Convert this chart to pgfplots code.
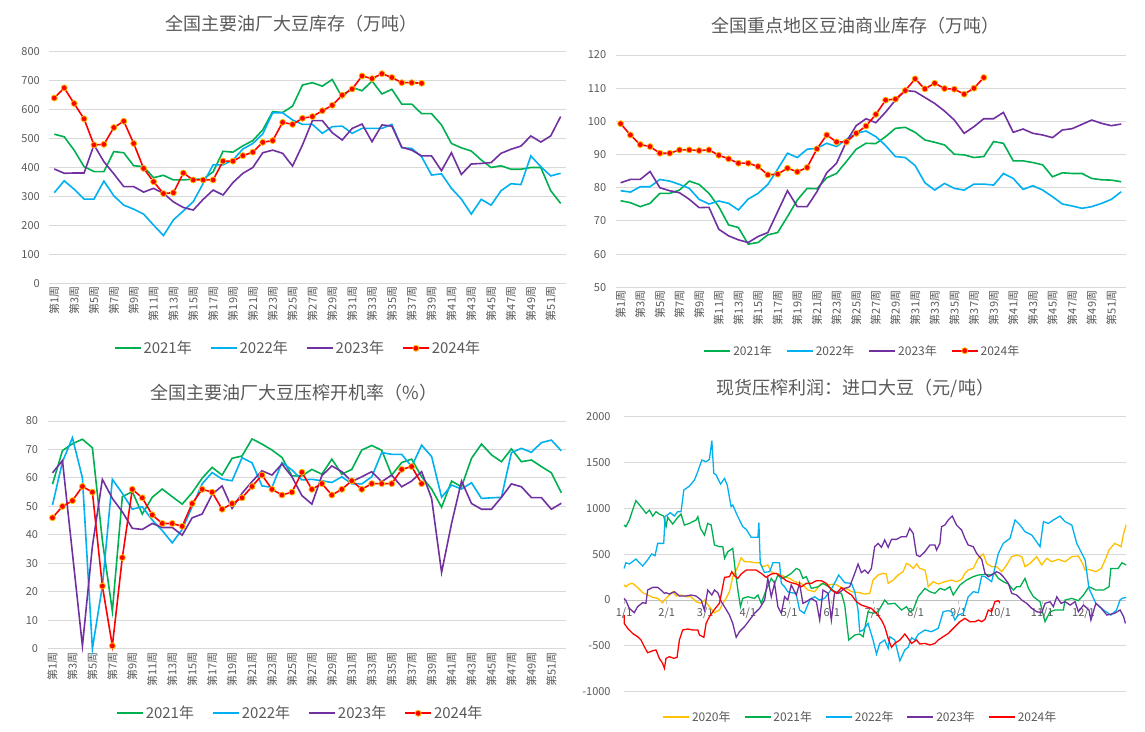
\documentclass[border=0pt]{standalone}
\usepackage{fontspec}
\setmainfont{Noto Sans CJK SC}
\usepackage{pgfplots}
\usepackage{pgfplotstable}
\pgfplotsset{compat=1.18}
\definecolor{cA}{HTML}{00B050}
\definecolor{cB}{HTML}{00B0F0}
\definecolor{cC}{HTML}{7030A0}
\definecolor{cD}{HTML}{FF0000}
\definecolor{cE}{HTML}{FFC000}
\definecolor{txt}{HTML}{595959}
\definecolor{gridc}{HTML}{D9D9D9}
\definecolor{axc}{HTML}{BFBFBF}

% week a21 a22 a23 a24
\pgfplotstableread{
w a21 a22 a23 a24
1 515 313 395 640
2 506 354 380 675
3 460 325 381 621
4 403 291 381 568
5 386 291 478 478
6 386 353 420 480
7 455 302 378 538
8 451 270 334 560
9 406 256 334 483
10 403 239 315 397
11 365 201 328 351
12 373 165 311 310
13 357 219 281 313
14 357 250 262 381
15 360 282 253 357
16 360 345 290 357
17 385 409 322 357
18 456 409 305 422
19 453 426 348 422
20 475 464 380 441
21 493 483 400 453
22 530 516 451 487
23 593 589 460 493
24 590 589 449 556
25 612 564 405 549
26 685 549 478 570
27 693 549 562 576
28 681 518 562 596
29 704 541 520 615
30 642 543 495 650
31 677 518 535 671
32 665 535 550 716
33 699 535 489 707
34 654 535 547 724
35 670 549 543 711
36 619 468 470 693
37 619 466 460 693
38 586 437 440 691
39 586 374 440 nan
40 547 378 389 nan
41 483 328 451 nan
42 468 291 376 nan
43 457 239 412 nan
44 426 290 414 nan
45 400 270 417 nan
46 406 320 449 nan
47 394 344 463 nan
48 394 341 474 nan
49 400 440 509 nan
50 400 403 488 nan
51 320 371 509 nan
52 276 380 576 nan
}\tA

\pgfplotstableread{
w a21 a22 a23 a24
1 76.1 79.1 81.5 99.3
2 75.5 78.7 82.5 95.9
3 74.3 80.3 82.5 93.0
4 75.3 80.3 84.9 92.4
5 78.3 82.5 80.0 90.4
6 78.3 82.0 79.1 90.4
7 79.3 81.0 78.5 91.4
8 82.0 79.8 76.5 91.4
9 81.0 76.5 74.0 91.2
10 78.3 75.1 74.1 91.4
11 74.3 76.0 67.5 89.8
12 68.8 75.3 65.5 88.7
13 68.0 73.3 64.3 87.4
14 63.0 76.6 63.5 87.4
15 63.5 78.3 65.3 86.4
16 65.8 81.0 66.5 83.9
17 66.5 85.6 72.8 84.1
18 71.3 90.4 79.1 85.9
19 76.3 89.1 74.3 84.8
20 79.8 91.6 74.3 86.1
21 79.7 91.9 78.8 91.7
22 83.0 93.4 84.5 95.9
23 84.3 92.4 87.4 93.8
24 87.9 94.6 93.9 93.8
25 91.6 96.4 98.7 96.4
26 93.4 97.1 100.8 98.6
27 93.3 95.4 99.6 102.1
28 95.4 92.7 102.8 106.4
29 97.9 89.4 106.4 106.7
30 98.2 89.1 109.3 109.3
31 96.7 86.7 109.0 112.8
32 94.4 81.5 107.2 109.8
33 93.7 79.3 105.4 111.5
34 92.9 81.3 103.1 109.9
35 90.1 79.8 100.4 109.7
36 89.9 79.3 96.4 108.2
37 89.1 81.1 98.4 110.0
38 89.4 81.1 100.8 113.2
39 93.9 80.8 100.8 nan
40 93.4 84.3 102.7 nan
41 88.1 82.8 96.7 nan
42 88.1 79.5 97.7 nan
43 87.6 80.6 96.4 nan
44 86.9 79.3 95.9 nan
45 83.3 77.3 95.1 nan
46 84.5 75.1 97.4 nan
47 84.3 74.5 97.8 nan
48 84.3 73.8 99.1 nan
49 82.8 74.3 100.4 nan
50 82.4 75.3 99.4 nan
51 82.3 76.5 98.7 nan
52 81.8 78.8 99.2 nan
}\tB

\pgfplotstableread{
w a21 a22 a23 a24
1 57.8 50.5 61.8 46
2 69.6 65.7 66.1 50
3 72.0 74.1 33.5 52
4 73.6 60.0 1 57
5 70.6 0 36 55
6 38 22 59.5 22
7 13.2 59.5 52.8 1
8 53.4 54.6 48.1 32
9 55.2 49.0 42.3 56
10 47.3 49.9 41.9 53
11 53.2 45.2 44.0 47
12 56.1 41.5 42.6 44
13 53.4 37.2 42.6 44
14 50.8 41.9 39.9 43
15 54.8 49.9 46.0 51
16 59.9 57.9 47.3 56
17 63.7 61.9 54.2 55
18 61.0 59.6 57.2 49
19 66.9 59.0 49.3 51
20 67.7 67.1 54.6 53
21 73.7 65.3 58.7 57
22 71.9 57.2 62.5 61
23 69.8 56.7 61.0 56
24 67.2 65.4 64.9 54
25 60.7 62.8 60.4 55
26 60.7 59.3 53.8 62
27 63.0 59.5 50.8 56
28 61.3 59.0 60.8 58
29 66.6 58.4 64.2 54
30 61.3 60.4 62.2 56
31 63.0 57.9 58.7 59
32 69.8 57.9 60.4 56
33 71.4 60.4 62.2 58
34 69.7 68.9 58.7 58
35 61.0 68.3 61.0 58
36 65.4 68.3 56.9 63
37 66.6 64.0 58.9 64
38 60.4 71.5 62.2 58
39 56.1 67.5 52.8 nan
40 49.7 53.2 26.8 nan
41 58.9 57.5 44.0 nan
42 56.9 56.1 58.9 nan
43 66.9 58.3 51.0 nan
44 71.9 52.8 49.0 nan
45 68.1 53.0 49.0 nan
46 65.7 53.2 53.2 nan
47 70.2 68.9 57.9 nan
48 65.7 70.4 56.9 nan
49 66.3 69.0 53.1 nan
50 64.0 72.4 53.1 nan
51 61.8 73.3 49.0 nan
52 54.8 69.5 51.1 nan
}\tC

\pgfplotsset{
  base/.style={
    scale only axis, clip=false,
    axis line style={draw=none},
    tick style={draw=none},
    ymajorgrids,
    grid style={gridc, line width=0.9pt},
    tick label style={font=\fontsize{11}{13}\selectfont, text=txt},
    /pgf/number format/assume math mode=true,
    /pgf/number format/1000 sep={},
    yticklabel style={xshift=-6pt},
    legend columns=-1,
    legend style={draw=none, fill=none, text=txt, anchor=center},
    legend image code/.code={\draw[mark repeat=2,mark phase=2,##1] plot coordinates {(0pt,0pt) (13pt,0pt) (26pt,0pt)};},
  },
  weekly/.style={
    xmin=0.5, xmax=52.5,
    xtick={1,3,...,51},
    xticklabels={第1周,第3周,第5周,第7周,第9周,第11周,第13周,第15周,第17周,第19周,第21周,第23周,第25周,第27周,第29周,第31周,第33周,第35周,第37周,第39周,第41周,第43周,第45周,第47周,第49周,第51周},
    xticklabel style={rotate=90, anchor=east},
  },
  l21/.style={draw=cA, line width=1.6pt},
  l22/.style={draw=cB, line width=1.6pt},
  l23/.style={draw=cC, line width=1.6pt},
  l24/.style={draw=cD, line width=1.6pt, mark=*, mark size=3pt, mark options={fill=cD, draw=cE, line width=0.8pt}},
}

\begin{document}
\begin{tikzpicture}
\path[use as bounding box] (0pt,0pt) rectangle (1145pt,731pt);

% Panel 1
\begin{axis}[base, weekly, at={(49.3pt,447.7pt)}, anchor=south west,
  width=516.3pt, height=231.6pt, ymin=0, ymax=800, ytick={0,100,...,800},
  legend image post style={line width=1.8pt},
  legend style={at={(0.4815,-0.2807)}, font=\fontsize{15}{17}\selectfont,
    /tikz/every even column/.append style={column sep=16pt}}]
\addplot[l21] table[x=w,y=a21] {\tA};
\addplot[l22] table[x=w,y=a22] {\tA};
\addplot[l23] table[x=w,y=a23] {\tA};
\addplot[l24] table[x=w,y=a24] {\tA};
\legend{2021年,2022年,2023年,2024年}
\end{axis}

% Panel 2
\begin{axis}[base, weekly, at={(615.7pt,443.7pt)}, anchor=south west,
  width=510.4pt, height=232.3pt, ymin=50, ymax=120, ytick={50,60,...,120},
  legend image post style={line width=1.8pt},
  legend style={at={(0.4833,-0.273)}, font=\fontsize{12}{14}\selectfont,
    /tikz/every even column/.append style={column sep=12pt}}]
\addplot[l21] table[x=w,y=a21] {\tB};
\addplot[l22] table[x=w,y=a22] {\tB};
\addplot[l23] table[x=w,y=a23] {\tB};
\addplot[l24] table[x=w,y=a24] {\tB};
\legend{2021年,2022年,2023年,2024年}
\end{axis}

% Panel 3
\begin{axis}[base, weekly, at={(47.5pt,82.3pt)}, anchor=south west,
  width=518.8pt, height=227.7pt, ymin=0, ymax=80, ytick={0,10,...,80},
  legend image post style={line width=1.8pt},
  legend style={at={(0.487,-0.2837)}, font=\fontsize{15}{17}\selectfont,
    /tikz/every even column/.append style={column sep=16pt}}]
\addplot[l21] table[x=w,y=a21] {\tC};
\addplot[l22] table[x=w,y=a22] {\tC};
\addplot[l23] table[x=w,y=a23] {\tC};
\addplot[l24] table[x=w,y=a24] {\tC};
\legend{2021年,2022年,2023年,2024年}
\end{axis}

% Panel 4
\begin{axis}[base, at={(624.1pt,39.3pt)}, anchor=south west,
  width=502pt, height=275pt, xmin=0, xmax=365, ymin=-1000, ymax=2000,
  ytick={-1000,-500,...,2000},
  axis x line=middle, axis y line=left,
  x axis line style={draw=axc, line width=0.9pt, -},
  y axis line style={draw=none},
  hide obscured x ticks=false,
  xtick={0,31,59,90,120,151,181,212,243,273,304,334},
  xticklabels={1/1,2/1,3/1,4/1,5/1,6/1,7/1,8/1,9/1,10/1,11/1,12/1},
  xtick style={draw=axc, line width=0.8pt}, tick align=outside, major tick length=4pt,
  legend image post style={line width=1.8pt},
  legend style={at={(0.4705,-0.093)}, font=\fontsize{12}{14}\selectfont,
    /tikz/every even column/.append style={column sep=11pt}}]
\addplot[draw=cE, line width=1.3pt] coordinates {(0,164) (1.3,145) (3.8,175) (6.2,182) (9.8,138) (13.5,80) (17.1,55) (20.8,29) (24.4,18) (28,-29) (29.8,7) (32.9,55) (35.3,91) (37.8,44) (41.4,55) (45.1,36) (48.7,36) (52.3,-18) (56,-36) (58.4,0) (62,-73) (65.7,-138) (69.3,-109) (71.8,-36) (74.2,18) (76.6,91) (79,255) (82.7,364) (85.1,462) (87.5,418) (91.2,418) (94.8,407) (98.5,407) (100.9,364) (104.5,382) (107,309) (109.4,291) (113,284) (116.7,255) (120.3,236) (124,200) (128.8,182) (133.7,109) (138.5,91) (143.4,182) (148.2,164) (153.1,175) (158,138) (162.8,116) (165.3,91) (171.3,80) (175,65) (178.6,73) (181,218) (184.7,273) (188.3,291) (190.7,284) (192,182) (195.6,218) (199.2,273) (202.9,309) (205.3,400) (207.7,382) (210.2,345) (212.6,393) (215,345) (218.7,327) (219.9,255) (221.1,145) (224.7,200) (228.4,175) (233.2,200) (238.1,218) (241.7,200) (245.4,225) (247.8,291) (250.2,327) (253.9,345) (257.5,455) (261.2,502) (263.6,400) (267.2,364) (270.9,364) (274.5,309) (278.1,382) (281.8,473) (285.4,491) (289.1,473) (291.5,364) (295.1,400) (300,473) (303.6,382) (307.3,455) (310.9,418) (315.8,444) (320.6,418) (325.5,473) (330.3,480) (333.3,400) (335.2,327) (338,334) (343,309) (347,345) (349.7,436) (352.6,545) (356.6,618) (359.2,600) (361.3,582) (363.2,727) (365,818)};
\addplot[draw=cA, line width=1.3pt] coordinates {(0,818) (1.3,800) (3.8,873) (6.2,982) (8.6,1084) (12.3,1018) (16,945) (18.4,982) (20.8,916) (23.2,964) (25.6,938) (28.8,916) (30.5,800) (31.7,902) (35.3,829) (39,902) (41.4,938) (43.8,818) (47.5,836) (52.3,873) (53.6,909) (55.5,782) (58.4,709) (60.8,836) (63.3,818) (65.7,600) (69.3,582) (71.8,582) (73,455) (75.4,527) (79,564) (80.8,327) (82.7,109) (84.6,-73) (86.3,18) (90,36) (94.8,18) (97.3,55) (99.7,-36) (103.3,109) (107,236) (109.5,182) (111.8,273) (114.3,236) (117.9,255) (121.6,291) (125.2,345) (127.6,327) (130,236) (132.5,255) (136.1,127) (141,145) (144.6,182) (149.5,138) (153.1,91) (158,73) (160.4,-55) (163.3,-436) (167.7,-382) (171.3,-371) (173.8,-400) (177.4,-127) (181,-145) (184.7,-127) (189.5,0) (192,-44) (196.8,-36) (201.7,-109) (205.3,-73) (207.7,-127) (210.2,-109) (213.8,36) (218.7,127) (222.3,91) (226,73) (229.6,127) (233.2,109) (236.9,145) (239.3,55) (244.2,164) (249,218) (253.9,255) (257.5,273) (262.4,280) (266,273) (269.6,291) (272.1,236) (275.7,200) (279.4,175) (283,109) (285.4,145) (287.9,145) (291.5,236) (294,127) (297.6,36) (302.4,-18) (306,-236) (309.7,-127) (313.3,-109) (319.4,-109) (320.6,0) (325.5,18) (330.3,-7) (334,55) (338,145) (343,109) (348.6,109) (352.6,145) (353.9,345) (359.2,345) (362,407) (365,382)};
\addplot[draw=cB, line width=1.3pt] coordinates {(0,345) (1.3,407) (3.8,393) (8.6,447) (13.5,371) (17,436) (20,502) (22.5,484) (24.4,618) (28.8,618) (29.8,909) (33.6,953) (36.6,916) (39,964) (41.4,964) (43.4,1200) (47.5,1243) (51.1,1309) (53.1,1382) (56.5,1527) (59.6,1509) (62,1534) (63.8,1738) (65.2,1382) (66.9,1364) (70.1,1265) (73,1327) (75,1254) (77.8,1018) (79,1036) (82.7,909) (86.3,800) (88.8,771) (92.4,684) (97.3,684) (98,844) (99,400) (102,302) (105.8,309) (108.2,407) (113,407) (114.3,182) (116.7,145) (119,91) (121.5,80) (125,73) (127.6,-109) (131,-145) (135,0) (138.5,36) (142,0) (145.8,18) (149.5,91) (153,182) (156,273) (160.4,189) (165.3,182) (167.7,91) (170.1,-109) (171.3,-345) (173.8,-327) (177.4,-255) (181,-436) (183.5,-589) (185.9,-473) (189.5,-436) (192,-527) (193.2,-400) (196.8,-436) (200.5,-662) (204.1,-545) (206.5,-516) (209,-411) (211.4,-436) (213.8,-375) (218.7,-327) (223.5,-345) (228.4,-309) (232,-127) (235.7,-116) (238.1,-127) (240.5,-218) (243,-164) (246.6,-145) (250.2,36) (253.9,91) (257.5,80) (260,262) (262.4,255) (267.2,200) (272.1,509) (275.7,618) (280.6,673) (284.2,873) (287.9,818) (291.5,745) (296.4,709) (302.4,582) (304.9,855) (308.5,836) (312.1,873) (317,916) (320.6,855) (325.5,818) (329.1,618) (331.6,545) (335.2,436) (338,127) (343,-36) (348.6,-109) (353.9,-164) (358,-109) (360.6,0) (362,18) (365,29)};
\addplot[draw=cC, line width=1.3pt] coordinates {(0,18) (1.3,-7) (3.8,-91) (7.4,-138) (9.8,-73) (13.5,-29) (15.9,-36) (17.1,109) (20.8,138) (24.4,138) (26.8,109) (29.3,73) (30.5,80) (32.9,65) (36.6,91) (40.2,44) (45.1,44) (48.7,55) (52.3,44) (56,0) (58.4,-109) (60.8,109) (63.8,55) (65.7,109) (68.1,80) (70.6,-18) (73,-73) (76.6,-164) (79,-255) (81.5,-407) (83.9,-345) (87.5,-291) (91.2,-218) (94.8,-145) (98.5,-91) (102.2,0) (104.5,236) (107,36) (109.4,182) (111.8,-73) (114.3,-145) (116.7,36) (119,0) (121.5,164) (125.2,55) (127.6,182) (130,-36) (132.5,-18) (136.1,18) (139.8,-18) (142.2,-218) (144.6,109) (148.3,73) (150.7,-218) (153.1,91) (155.6,73) (160.4,127) (164,145) (167.7,291) (170.1,393) (172.5,298) (175,327) (177.4,291) (179.8,345) (182.2,582) (184.7,618) (187.1,575) (189.5,655) (192,575) (194.4,662) (198,662) (201.7,691) (205.3,691) (207.7,782) (210.2,727) (212.6,491) (215,473) (218.7,527) (222.3,600) (226,600) (227.2,545) (229.6,618) (230.8,800) (233.2,818) (235.7,873) (238.6,916) (241.7,818) (245.4,764) (247.8,673) (250.2,600) (253.9,582) (256.3,509) (260,444) (262.4,291) (264.8,255) (267.2,273) (270.9,309) (273.3,291) (275.7,255) (279.4,182) (281.8,73) (285.4,55) (289.1,0) (292.7,-36) (296.4,-91) (300,-127) (303.6,-138) (306.1,-36) (309.7,-18) (312.1,-73) (314.6,36) (317.7,-36) (320.6,-18) (324.3,-55) (327.9,-18) (330.3,-127) (334,-55) (338,-109) (339.4,-218) (343,-36) (347,-91) (351,-164) (356.6,-145) (360.6,-109) (363.2,-182) (364.5,-255)};
\addplot[draw=cD, line width=1.3pt] coordinates {(0,-164) (0.1,-255) (2.6,-309) (6.2,-364) (9.8,-400) (12.3,-436) (14.7,-509) (17.1,-575) (20.8,-553) (23.2,-545) (25.6,-636) (28,-691) (29.3,-745) (30.5,-636) (32.9,-618) (36.1,-636) (38.5,-625) (40.2,-436) (42.6,-327) (46.3,-316) (49.9,-327) (53.6,-327) (54.8,-382) (58,-407) (59.6,-255) (62,-182) (65.7,-102) (69.3,-36) (71,91) (73,247) (76.6,255) (78.3,309) (80.3,265) (82.7,236) (85.1,284) (88.8,327) (92.4,327) (96,327) (99.7,291) (103.3,247) (107,284) (110.6,291) (114.3,255) (117.9,211) (121.6,189) (125.2,175) (128.9,145) (132.5,182) (136.2,182) (139.8,211) (143.4,211) (147.1,182) (150.8,109) (154.4,73) (158,135) (161.6,91) (165.3,55) (168.9,-18) (172.5,-55) (176.2,-73) (179.8,-91) (183.5,-145) (187.1,-218) (189.5,-291) (192,-418) (194.4,-516) (196.8,-473) (200.5,-436) (204.1,-371) (206.5,-418) (209,-473) (212.6,-436) (215,-480) (218.7,-473) (222.3,-491) (226,-473) (228.4,-436) (232,-400) (235.7,-364) (240.5,-291) (244.2,-236) (247.8,-200) (251.4,-236) (255.1,-236) (257.5,-218) (260,-236) (262.4,-211) (264.8,-109) (267.2,-127) (269.6,-18) (272.1,-7) (273.3,-29)};
\legend{2020年,2021年,2022年,2023年,2024年}
\end{axis}

% Titles
\node[font=\fontsize{18}{20}\selectfont, text=txt] at (291.4pt,707.7pt) {全国主要油厂大豆库存（万吨）};
\node[font=\fontsize{18}{20}\selectfont, text=txt] at (855.5pt,705pt) {全国重点地区豆油商业库存（万吨）};
\node[font=\fontsize{18}{20}\selectfont, text=txt] at (294pt,338.3pt) {全国主要油厂大豆压榨开机率（\%）};
\node[font=\fontsize{18}{20}\selectfont, text=txt] at (855.5pt,342.7pt) {现货压榨利润：进口大豆（元/吨）};
\end{tikzpicture}
\end{document}
